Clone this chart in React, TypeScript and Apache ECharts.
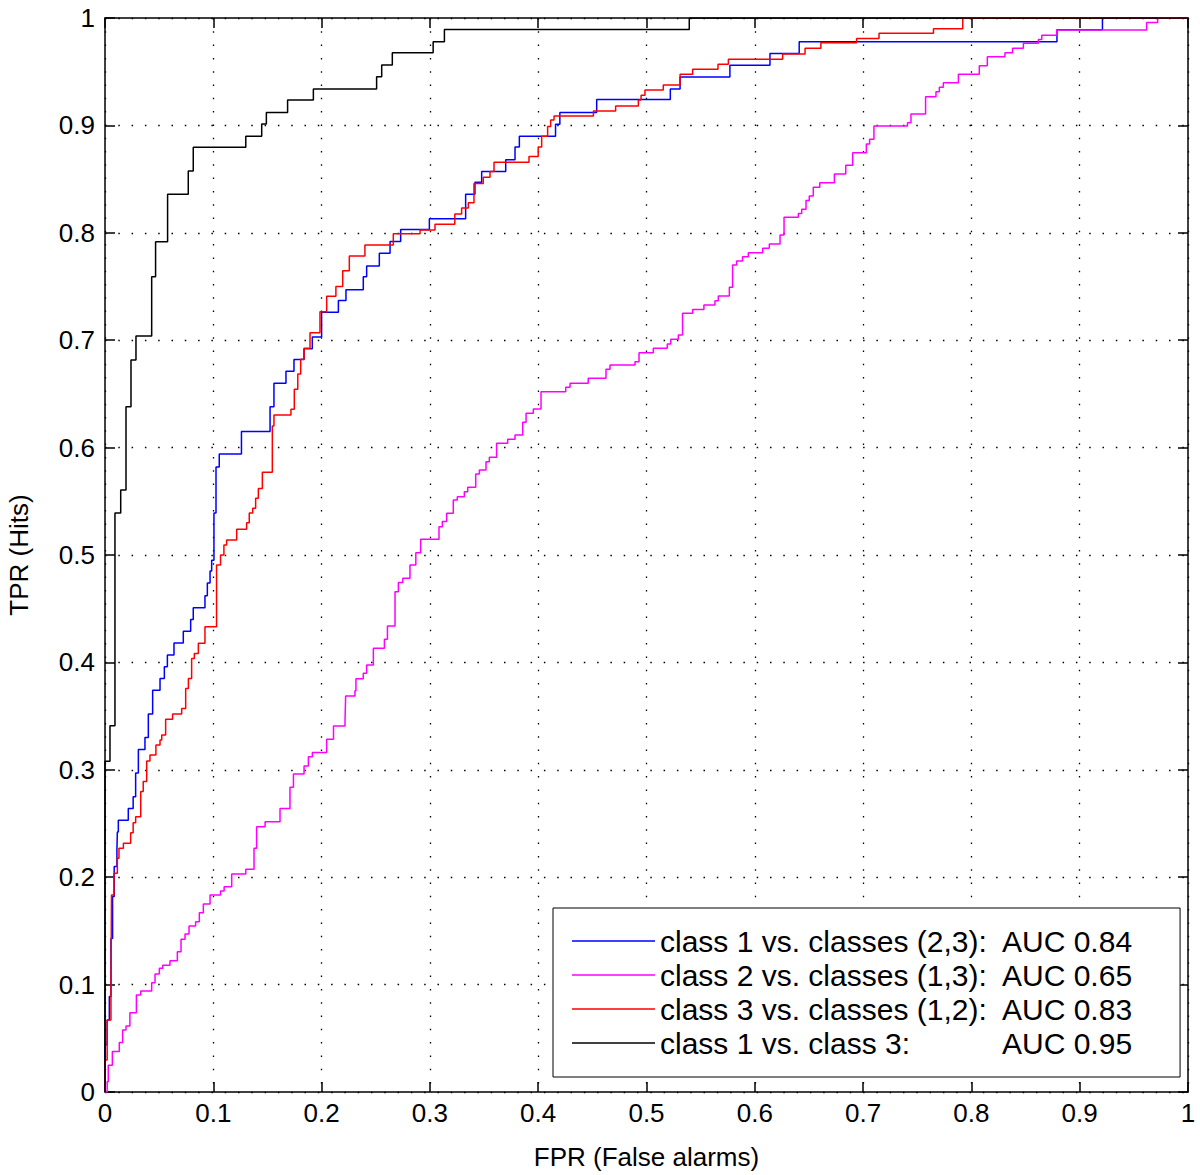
import React, { useEffect, useRef } from "react";
import * as echarts from "echarts";

const FONT = "'Liberation Sans', Arial, Helvetica, sans-serif";

const SERIES_NAMES = [
  "class 1 vs. classes (2,3)",
  "class 2 vs. classes (1,3)",
  "class 3 vs. classes (1,2)",
  "class 1 vs. class 3",
];
const LEGEND_LABELS = [
  "class 1 vs. classes (2,3):",
  "class 2 vs. classes (1,3):",
  "class 3 vs. classes (1,2):",
  "class 1 vs. class 3:",
];
const AUC = [0.84, 0.65, 0.83, 0.95];
const COLORS = ["#0000ff", "#ff00ff", "#ff0000", "#000000"];

// ROC operating points (FPR, TPR)
const roc1vs23: [number, number][] = [
  [0, 0], [0, 0.044], [0.002, 0.067], [0.004, 0.089], [0.0055, 0.143], [0.007, 0.182], [0.0085, 0.21],
  [0.011, 0.225], [0.0114, 0.242], [0.0123, 0.253], [0.0215, 0.264], [0.026, 0.275], [0.0283, 0.297],
  [0.0308, 0.319], [0.0369, 0.33], [0.04, 0.352], [0.044, 0.374], [0.0508, 0.385], [0.0548, 0.396],
  [0.0576, 0.407], [0.0637, 0.418], [0.0723, 0.429], [0.0791, 0.44], [0.0815, 0.451], [0.0923, 0.462],
  [0.0945, 0.474], [0.097, 0.485], [0.0985, 0.495], [0.1006, 0.539], [0.1025, 0.582], [0.1055, 0.594],
  [0.126, 0.615], [0.1524, 0.638], [0.156, 0.66], [0.1671, 0.671], [0.1745, 0.682], [0.1838, 0.692],
  [0.1914, 0.703], [0.2, 0.726], [0.2155, 0.737], [0.2225, 0.747], [0.2385, 0.759], [0.2416, 0.769],
  [0.2533, 0.781], [0.2632, 0.792], [0.273, 0.803], [0.2995, 0.813], [0.333, 0.836], [0.3416, 0.847],
  [0.3478, 0.857], [0.37, 0.868], [0.3786, 0.88], [0.3826, 0.89], [0.416, 0.901], [0.42, 0.912],
  [0.454, 0.924], [0.522, 0.934], [0.531, 0.945], [0.577, 0.956], [0.614, 0.967], [0.641, 0.978],
  [0.879, 0.989], [0.921, 1], [1, 1],
];

const roc2vs13: [number, number][] = [
  [0, 0], [0.002, 0.0096], [0.003, 0.025], [0.0068, 0.0376], [0.0132, 0.046], [0.0163, 0.0577],
  [0.0194, 0.0615], [0.023, 0.0739], [0.029, 0.0903], [0.033, 0.094], [0.0431, 0.1018], [0.0462, 0.1099],
  [0.0502, 0.1152], [0.0533, 0.118], [0.06, 0.1223], [0.0668, 0.1307], [0.0702, 0.1422], [0.0739, 0.1471],
  [0.0776, 0.1546], [0.0837, 0.1586], [0.0871, 0.167], [0.0908, 0.175], [0.097, 0.1834], [0.1067, 0.1872],
  [0.11, 0.1912], [0.117, 0.203], [0.13, 0.2074], [0.1376, 0.2269], [0.14, 0.247], [0.1478, 0.2517],
  [0.1616, 0.264], [0.1708, 0.2837], [0.174, 0.296], [0.1838, 0.3035], [0.1878, 0.3122], [0.1915, 0.316],
  [0.2047, 0.3284], [0.211, 0.3408], [0.2216, 0.3448], [0.2222, 0.3687], [0.2308, 0.3737], [0.2317, 0.3848],
  [0.2385, 0.3898], [0.2416, 0.3976], [0.2478, 0.4131], [0.258, 0.4215], [0.2608, 0.434], [0.2678, 0.4658],
  [0.2709, 0.4743], [0.275, 0.4783], [0.2816, 0.4907], [0.287, 0.5022], [0.2915, 0.5147], [0.3084, 0.5264],
  [0.3115, 0.5311], [0.3155, 0.5388], [0.3216, 0.5512], [0.3253, 0.5543], [0.3318, 0.559], [0.3349, 0.563],
  [0.3423, 0.5754], [0.3457, 0.5791], [0.3518, 0.5869], [0.3549, 0.591], [0.3616, 0.604], [0.3718, 0.6077],
  [0.3786, 0.6117], [0.3857, 0.6235], [0.3888, 0.632], [0.3955, 0.636], [0.4026, 0.6521], [0.4254, 0.6562],
  [0.4294, 0.66], [0.4462, 0.6645], [0.4626, 0.673], [0.4663, 0.677], [0.4894, 0.68], [0.4931, 0.6884],
  [0.5063, 0.6925], [0.5192, 0.6965], [0.5224, 0.7008], [0.5294, 0.7049], [0.5333, 0.725], [0.5426, 0.7287],
  [0.553, 0.7328], [0.5632, 0.7368], [0.5663, 0.7412], [0.5765, 0.7493], [0.5795, 0.77], [0.5832, 0.7737],
  [0.5887, 0.7778], [0.594, 0.7815], [0.6073, 0.7856], [0.6134, 0.7896], [0.6233, 0.798], [0.627, 0.8144],
  [0.6402, 0.818], [0.6433, 0.822], [0.6473, 0.83], [0.6503, 0.8343], [0.654, 0.8424], [0.66, 0.8467],
  [0.6735, 0.8547], [0.684, 0.863], [0.6904, 0.8746], [0.703, 0.8827], [0.706, 0.887], [0.71, 0.8994],
  [0.741, 0.9025], [0.7442, 0.9106], [0.7577, 0.9267], [0.7673, 0.9314], [0.7704, 0.9355], [0.7741, 0.9398],
  [0.788, 0.9476], [0.8073, 0.9556], [0.8147, 0.964], [0.831, 0.9677], [0.838, 0.9718], [0.848, 0.9764],
  [0.8618, 0.98], [0.865, 0.984], [0.8787, 0.9888], [0.9618, 0.9957], [0.972, 1], [1, 1],
];

const roc3vs12: [number, number][] = [
  [0, 0], [0, 0.0298], [0.002, 0.067], [0.0055, 0.0887], [0.006, 0.1834], [0.0083, 0.2036], [0.0114, 0.2176],
  [0.0129, 0.2269], [0.017, 0.2316], [0.0237, 0.2415], [0.026, 0.2508], [0.0283, 0.2564], [0.033, 0.2797],
  [0.0353, 0.289], [0.0385, 0.3082], [0.0415, 0.3138], [0.047, 0.323], [0.0508, 0.3277], [0.0524, 0.3324],
  [0.056, 0.347], [0.0624, 0.352], [0.0708, 0.357], [0.0745, 0.3758], [0.077, 0.385], [0.08, 0.4037],
  [0.0825, 0.4084], [0.0862, 0.4178], [0.0923, 0.4333], [0.103, 0.4907], [0.1067, 0.5], [0.1098, 0.5093],
  [0.1123, 0.514], [0.1216, 0.524], [0.1308, 0.53], [0.1332, 0.539], [0.1364, 0.5435], [0.1391, 0.5528],
  [0.1416, 0.562], [0.1453, 0.577], [0.1545, 0.62], [0.156, 0.6304], [0.1717, 0.6357], [0.1748, 0.6543],
  [0.178, 0.6685], [0.1807, 0.6822], [0.1838, 0.6925], [0.1893, 0.707], [0.1985, 0.7265], [0.2047, 0.741],
  [0.2132, 0.75], [0.2195, 0.7647], [0.2256, 0.7784], [0.24, 0.7886], [0.2662, 0.799], [0.2909, 0.8026],
  [0.3047, 0.808], [0.323, 0.8175], [0.3293, 0.823], [0.3355, 0.828], [0.3407, 0.846], [0.3493, 0.8517],
  [0.3555, 0.857], [0.3592, 0.8656], [0.3915, 0.871], [0.4, 0.88], [0.4032, 0.89], [0.4087, 0.899],
  [0.4115, 0.905], [0.4146, 0.9088], [0.451, 0.9134], [0.4715, 0.918], [0.4925, 0.9236], [0.495, 0.928],
  [0.4986, 0.933], [0.5155, 0.9376], [0.531, 0.9476], [0.5426, 0.9523], [0.566, 0.957], [0.5756, 0.9616],
  [0.6257, 0.9665], [0.6464, 0.9718], [0.661, 0.977], [0.694, 0.981], [0.7147, 0.9857], [0.765, 0.99],
  [0.792, 1], [1, 1],
];

const roc1vs3: [number, number][] = [
  [0, 0], [0, 0.308], [0.0046, 0.341], [0.0092, 0.539], [0.0145, 0.5605], [0.0194, 0.638], [0.024, 0.6816],
  [0.0286, 0.704], [0.0431, 0.759], [0.0467, 0.7917], [0.0578, 0.8358], [0.0769, 0.8575], [0.0815, 0.8796],
  [0.13, 0.89], [0.1447, 0.9013], [0.149, 0.912], [0.1686, 0.9236], [0.1924, 0.934], [0.2508, 0.9454],
  [0.2555, 0.9562], [0.2653, 0.9677], [0.303, 0.9779], [0.3134, 0.9894], [0.5395, 1], [1, 1],
];

const CURVES = [roc1vs23, roc2vs13, roc3vs12, roc1vs3];

// Staircase: move horizontally to next FPR, then vertically to next TPR
function staircase(pts: [number, number][]): [number, number][] {
  const out: [number, number][] = [];
  pts.forEach((p, i) => {
    if (i > 0) {
      const prev = pts[i - 1];
      if (prev[0] !== p[0] && prev[1] !== p[1]) out.push([p[0], prev[1]]);
    }
    out.push(p);
  });
  return out;
}

const fmt = (v: number) => String(Math.round(v * 10) / 10);

export default function App() {
  const ref = useRef<HTMLDivElement>(null);

  useEffect(() => {
    if (!ref.current) return;
    const chart = echarts.init(ref.current, undefined, { renderer: "svg" });

    const axisLine = { show: true, onZero: false, lineStyle: { color: "#000", width: 1.5 } };
    const axisTick = { show: true, inside: true, length: 10, lineStyle: { color: "#000", width: 1.5 } };
    const splitLine = { show: true, lineStyle: { color: "#000", width: 1.3, type: [1.5, 11.8] } };
    const labelStyle = { fontSize: 26, color: "#000", fontFamily: FONT };

    const option: any = {
      animation: false,
      backgroundColor: "#fff",
      grid: { left: 105, top: 18, width: 1083, height: 1074, containLabel: false, outerBoundsMode: "none" },
      xAxis: [
        {
          type: "value", min: 0, max: 1, interval: 0.1, position: "bottom",
          axisLine, axisTick, splitLine,
          axisLabel: { ...labelStyle, margin: 8, formatter: fmt },
          name: "FPR (False alarms)", nameLocation: "middle", nameGap: 52,
          nameTextStyle: { ...labelStyle },
        },
        {
          type: "value", min: 0, max: 1, interval: 0.1, position: "top",
          axisLine, axisTick, splitLine: { show: false }, axisLabel: { show: false },
        },
      ],
      yAxis: [
        {
          type: "value", min: 0, max: 1, interval: 0.1, position: "left",
          axisLine, axisTick, splitLine,
          axisLabel: { ...labelStyle, margin: 10, formatter: fmt },
          name: "TPR (Hits)", nameLocation: "middle", nameGap: 73,
          nameTextStyle: { ...labelStyle },
        },
        {
          type: "value", min: 0, max: 1, interval: 0.1, position: "right",
          axisLine, axisTick, splitLine: { show: false }, axisLabel: { show: false },
        },
      ],
      legend: {
        orient: "vertical",
        left: 553, top: 908,
        padding: [16, 48, 17, 19],
        itemGap: 0,
        itemWidth: 83,
        itemHeight: 1.5,
        icon: "rect",
        backgroundColor: "#fff",
        borderColor: "#000",
        borderWidth: 1,
        borderRadius: 0,
        selectedMode: false,
        data: SERIES_NAMES,
        textStyle: {
          fontSize: 30, lineHeight: 34, color: "#000", fontFamily: FONT,
          rich: {
            a: { fontSize: 30, lineHeight: 34, color: "#000", fontFamily: FONT, width: 342 },
            b: { fontSize: 30, lineHeight: 34, color: "#000", fontFamily: FONT },
          },
        },
        formatter: (name: string) => {
          const i = SERIES_NAMES.indexOf(name);
          return `{a|${LEGEND_LABELS[i]}}{b|AUC ${AUC[i].toFixed(2)}}`;
        },
      },
      series: CURVES.map((pts, i) => ({
        type: "line",
        name: SERIES_NAMES[i],
        data: staircase(pts),
        xAxisIndex: 0,
        yAxisIndex: 0,
        symbol: "none",
        showSymbol: false,
        silent: true,
        clip: true,
        lineStyle: { color: COLORS[i], width: 1.5 },
        itemStyle: { color: COLORS[i] },
        z: 2 + i,
      })),
    };

    chart.setOption(option);
    return () => chart.dispose();
  }, []);

  return (
    <div
      ref={ref}
      style={{ position: "absolute", left: 0, top: 0, width: 1200, height: 1175, background: "#fff" }}
    />
  );
}
